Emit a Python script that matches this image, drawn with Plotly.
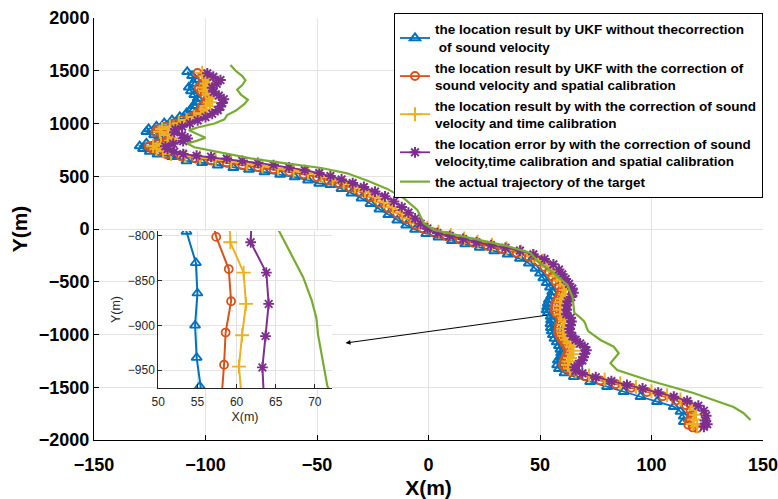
import plotly.graph_objects as go

FONT = "Liberation Sans, Arial, Helvetica, sans-serif"

# ---- actual trajectory of the target ----
true_x = [-88.8, -86.5, -83.5, -82.1, -83.5, -85.8, -84.0, -81.0, -82.5, -86.5, -90.3, -91.5, -96.0,
          -104.0, -107.5, -104.0, -100.0, -104.0, -108.2, -105.0, -97.0, -88.0, -79.8, -66.4, -57.4,
          -48.0, -36.5, -27.0, -18.5, -11.0, -5.0, -2.1, 2.4, 12.0, 23.3, 35.0, 45.7, 49.3, 55.6, 62.3,
          64.6, 65.0, 65.4, 67.2, 68.5, 69.6, 70.2, 70.4, 70.9, 71.6, 74.5, 77.1, 83.1, 85.3, 81.6,
          84.6, 98.2, 118.8, 136.8, 141.2, 144.4]
true_y = [1555, 1500, 1450, 1410, 1365, 1320, 1270, 1225, 1185, 1120, 1080, 1040, 1000,
          960, 935, 900, 865, 835, 810, 775, 740, 705, 670, 629, 607,
          578, 528, 455, 380, 290, 180, 54, -9, -55, -104, -160, -227, -313, -408, -531,
          -645, -740, -794, -825, -846, -872, -892, -910, -933, -968, -1010, -1052, -1116, -1178, -1273,
          -1337, -1431, -1555, -1687, -1744, -1810]

# ---- UKF without sound-velocity correction ----
ukf_x = [-108.2, -106.0, -104.5, -105.5, -107.5, -106.5, -105.0, -103.5, -104.0, -105.5, -106.5, -108.5,
         -111.5, -115.0, -118.5, -122.0, -125.5, -126.5, -123.0, -120.5, -122.0, -126.5, -129.5, -128.0,
         -125.0, -121.5, -115.0,
         -108.5, -101.5, -94.5, -87.5, -80.5, -73.5, -66.5, -60.0, -54.0, -49.0,
         -44.0, -39.0, -34.5, -30.0, -26.0, -22.0, -18.0, -14.0, -10.0, -6.0,
         -1.0, 4.5, 10.5, 16.5, 23.0, 29.5, 35.5, 41.0, 45.0, 48.0,
         50.0, 51.5, 53.0, 54.5, 55.5, 55.0, 54.0, 53.5, 53.2, 53.0, 53.6, 54.8, 55.0, 54.7, 54.9, 55.3,
         55.8, 56.5, 57.5, 58.5, 59.2, 59.5, 59.2, 58.0, 57.7, 58.5,
         61.0, 65.2, 72.5, 80.1, 87.5, 95.1, 102.5, 110.0, 113.0, 114.5, 114.5]
ukf_y = [1490, 1452, 1416, 1380, 1343, 1308, 1272, 1238, 1203, 1168, 1133, 1098,
         1063, 1033, 1003, 973, 948, 922, 892, 862, 836, 811, 786, 760,
         734, 708, 686,
         645, 628, 604, 580, 563, 540, 516, 492, 463, 432,
         420, 382, 340, 292, 240, 188, 134, 82, 35, -5,
         -45, -78, -112, -143, -175, -208, -240, -280, -325, -375,
         -420, -465, -510, -553, -597, -635, -672, -705, -740, -768, -795, -830, -864, -900, -936, -968,
         -1003, -1038, -1072, -1107, -1142, -1176, -1210, -1245, -1289, -1325,
         -1365, -1400, -1448, -1495, -1542, -1590, -1637, -1684, -1730, -1775, -1826]

# ---- UKF with sound-velocity correction and spatial calibration ----
sv_x = [-103.6, -101.5, -100.0, -101.5, -103.0, -102.0, -100.5, -99.0, -100.0, -101.5, -102.0, -104.0,
        -107.0, -110.5, -114.0, -118.0, -121.5, -122.5, -119.0, -116.0, -117.5, -122.0, -125.5, -124.0,
        -121.0, -117.5, -111.0,
        -104.5, -97.5, -90.5, -83.5, -76.5, -69.5, -62.5, -56.0, -50.0, -45.0,
        -40.0, -35.0, -30.5, -26.0, -22.0, -18.0, -14.0, -10.0, -6.0, -2.5,
        2.5, 8.0, 14.0, 20.0, 26.5, 33.0, 39.5, 45.0, 49.0, 52.0,
        54.0, 55.5, 57.0, 58.5, 59.5, 59.0, 58.0, 57.0, 56.8, 56.5, 57.4, 59.0, 59.3, 58.6, 58.4, 58.1,
        58.8, 59.8, 61.0, 62.0, 62.8, 62.3, 61.5, 60.8, 60.3, 61.5,
        64.0, 70.0, 77.0, 84.0, 91.0, 98.0, 105.0, 111.0, 115.5, 117.5, 118.0, 117.0, 116.5, 118.5, 120.5]
sv_y = [1479, 1445, 1410, 1375, 1340, 1305, 1270, 1235, 1200, 1165, 1130, 1095,
        1060, 1030, 1000, 970, 945, 920, 890, 860, 835, 810, 785, 760,
        735, 710, 690,
        668, 650, 628, 605, 588, 566, 543, 520, 492, 462,
        428, 392, 350, 300, 250, 198, 145, 92, 42, 2,
        -35, -68, -100, -130, -160, -192, -225, -265, -310, -360,
        -405, -450, -495, -540, -585, -625, -665, -700, -735, -768, -801, -837, -873, -908, -944, -979,
        -1012, -1046, -1080, -1115, -1150, -1185, -1218, -1252, -1287, -1320,
        -1355, -1395, -1435, -1470, -1505, -1545, -1585, -1625, -1670, -1720, -1765, -1810, -1855, -1880, -1888]

# ---- with sound-velocity correction and time calibration ----
svt_x = [-101.5, -100.0, -98.5, -99.5, -101.0, -100.0, -98.5, -97.0, -98.0, -99.5, -100.0, -102.0,
         -105.0, -108.5, -112.0, -116.0, -119.5, -120.5, -117.0, -114.0, -115.5, -120.0, -123.5, -122.0,
         -119.0, -115.5, -109.0,
         -102.5, -95.5, -88.5, -81.5, -74.5, -67.5, -60.5, -54.0, -48.0, -43.0,
         -38.0, -33.0, -28.5, -24.0, -20.0, -16.0, -12.0, -8.0, -4.0, -0.5,
         4.5, 10.0, 16.0, 22.0, 28.5, 35.0, 41.5, 47.0, 51.0, 54.0,
         56.0, 57.5, 59.0, 60.5, 61.5, 61.0, 60.0, 59.3, 59.0, 59.0, 59.2, 60.9, 61.2, 60.7, 60.3, 60.5,
         61.0, 62.0, 63.2, 64.3, 65.0, 64.5, 63.5, 62.8, 62.5, 63.5,
         66.0, 72.0, 79.0, 86.0, 93.0, 100.0, 107.0, 113.0, 117.5, 119.5, 120.0, 119.0, 118.5, 120.5]
svt_y = [1482, 1447, 1412, 1377, 1342, 1307, 1272, 1237, 1202, 1167, 1132, 1097,
         1062, 1032, 1002, 972, 947, 921, 891, 861, 836, 811, 786, 761,
         736, 712, 692,
         678, 660, 638, 616, 598, 576, 553, 530, 502, 472,
         438, 402, 360, 310, 260, 208, 155, 102, 52, 12,
         -25, -58, -90, -120, -150, -182, -215, -255, -300, -350,
         -398, -443, -488, -533, -578, -620, -660, -695, -730, -765, -807, -841, -876, -911, -946, -981,
         -1015, -1049, -1083, -1118, -1153, -1188, -1222, -1256, -1290, -1323,
         -1350, -1388, -1427, -1462, -1497, -1537, -1577, -1617, -1662, -1712, -1760, -1805, -1848, -1872]

# ---- with sound-velocity correction, time and spatial calibration ----
full_x = [-99.2, -96.5, -93.3, -95.0, -97.0, -96.3, -94.0, -91.8, -92.5, -93.3, -94.5, -97.0,
          -100.0, -103.5, -107.0, -110.5, -113.5, -114.0, -110.5, -108.0, -110.0, -114.5, -118.0, -117.0,
          -114.0, -110.0, -104.0,
          -97.5, -90.5, -83.5, -76.5, -69.5, -62.5, -55.5, -49.0, -44.0, -39.0,
          -34.0, -29.0, -24.0, -19.5, -15.5, -12.0, -9.0, -6.0, -3.5, -0.5,
          4.0, 9.5, 15.5, 21.5, 28.0, 34.5, 41.0, 47.0, 52.0, 56.0,
          58.5, 60.0, 61.5, 63.0, 64.5, 65.0, 64.0, 62.5, 62.0, 62.0, 61.8, 63.8, 64.1, 63.7, 63.3, 63.5,
          64.5, 66.0, 68.0, 70.0, 70.8, 70.0, 69.5, 69.0, 67.5, 65.5, 66.0,
          69.0, 75.0, 82.0, 89.0, 96.0, 103.0, 110.0, 116.0, 121.0, 123.5, 124.5, 124.0, 125.0, 123.5]
full_y = [1476, 1443, 1412, 1376, 1340, 1300, 1265, 1230, 1195, 1160, 1127, 1092,
          1060, 1030, 1000, 970, 944, 918, 888, 858, 833, 808, 784, 758,
          733, 710, 695,
          685, 668, 645, 626, 606, 584, 558, 530, 502, 470,
          435, 398, 355, 310, 260, 208, 155, 100, 50, 5,
          -38, -65, -95, -125, -152, -178, -205, -240, -285, -335,
          -385, -430, -475, -520, -565, -605, -645, -685, -722, -765, -807, -841, -876, -912, -947, -982,
          -1016, -1050, -1085, -1118, -1150, -1183, -1215, -1245, -1278, -1310, -1340,
          -1368, -1405, -1442, -1478, -1512, -1550, -1590, -1630, -1675, -1722, -1770, -1815, -1850, -1875]

labels = [
    "the location result by UKF without thecorrection<br> of sound velocity",
    "the location result by UKF with the correction of<br>sound velocity and spatial calibration",
    "the location result by with the correction of sound<br>velocity and time calibration",
    "the location error by with the correction of sound<br>velocity,time calibration and spatial calibration",
    "the actual trajectory of the target",
]
colors = ["#0072BD", "#D95319", "#EDB120", "#7E2F8E", "#77AC30"]
symbols = ["triangle-up-open", "circle-open", "cross-thin-open", "asterisk-open"]
msizes = [9, 8, 10, 9]
estimates = [(ukf_x, ukf_y), (sv_x, sv_y), (svt_x, svt_y), (full_x, full_y)]

fig = go.Figure()

# main axes
for i, (xs, ys) in enumerate(estimates):
    fig.add_trace(go.Scatter(
        x=xs, y=ys, mode="lines+markers", name=labels[i],
        line=dict(color=colors[i], width=1.8),
        marker=dict(symbol=symbols[i], size=msizes[i], color=colors[i],
                    line=dict(color=colors[i], width=2)),
    ))
fig.add_trace(go.Scatter(
    x=true_x, y=true_y, mode="lines", name=labels[4],
    line=dict(color=colors[4], width=2.2),
))

# zoomed inset
for i, (xs, ys) in enumerate(estimates):
    fig.add_trace(go.Scatter(
        x=xs, y=ys, mode="lines+markers", showlegend=False, xaxis="x2", yaxis="y2",
        line=dict(color=colors[i], width=2),
        marker=dict(symbol=symbols[i], size=msizes[i], color=colors[i],
                    line=dict(color=colors[i], width=1.8)),
    ))
fig.add_trace(go.Scatter(
    x=true_x, y=true_y, mode="lines", showlegend=False, xaxis="x2", yaxis="y2",
    line=dict(color=colors[4], width=2.2),
))

grid = "#e3e3e3"
main_tick = dict(family=FONT, size=18, color="black", weight="bold")
inset_tick = dict(family=FONT, size=12, color="#262626")

fig.update_layout(
    width=778, height=499,
    margin=dict(l=94, r=15, t=18, b=59),
    paper_bgcolor="white", plot_bgcolor="white",
    font=dict(family=FONT),
    xaxis=dict(
        domain=[0, 1], range=[-150, 150], tick0=-150, dtick=50,
        ticks="inside", ticklen=5, tickcolor="black",
        showline=True, linecolor="black", linewidth=1,
        showgrid=True, gridcolor=grid, zeroline=False, automargin=False,
        tickfont=main_tick, ticklabeloverflow="allow", ticklabelstandoff=8,
        title=dict(text="X(m)", font=dict(family=FONT, size=21, color="black", weight="bold"), standoff=8),
    ),
    yaxis=dict(
        domain=[0, 1], range=[-2000, 2000], tick0=-2000, dtick=500,
        ticks="inside", ticklen=5, tickcolor="black",
        showline=True, linecolor="black", linewidth=1,
        showgrid=True, gridcolor=grid, zeroline=False, automargin=False,
        tickfont=main_tick, ticklabeloverflow="allow",
        title=dict(text="Y(m)", font=dict(family=FONT, size=21, color="black", weight="bold"), standoff=5),
    ),
    xaxis2=dict(
        domain=[0.0961, 0.3553], anchor="y2", range=[50, 72.15], tick0=50, dtick=5,
        ticks="inside", ticklen=4, tickcolor="#262626",
        showline=True, linecolor="#262626", linewidth=1,
        showgrid=True, gridcolor=grid, zeroline=False, automargin=False,
        tickfont=inset_tick, ticklabelstandoff=3,
        title=dict(text="X(m)", font=dict(family=FONT, size=12.5, color="#262626"), standoff=3),
    ),
    yaxis2=dict(
        domain=[0.1232, 0.4953], anchor="x2", range=[-970, -794.4], tick0=-950, dtick=50,
        ticks="inside", ticklen=4, tickcolor="#262626",
        showline=True, linecolor="#262626", linewidth=1,
        showgrid=True, gridcolor=grid, zeroline=False, automargin=False,
        tickfont=inset_tick,
        title=dict(text="Y(m)", font=dict(family=FONT, size=12.5, color="#262626"), standoff=4),
    ),
    legend=dict(
        x=1, y=1.012, xanchor="right", yanchor="top",
        bgcolor="white", bordercolor="black", borderwidth=1,
        font=dict(family=FONT, size=13.5, color="black", weight="bold"),
        tracegroupgap=0, itemwidth=30,
    ),
    annotations=[dict(
        x=-37.2, y=-1081, ax=53.8, ay=-815, xref="x", yref="y", axref="x", ayref="y",
        showarrow=True, arrowhead=2, arrowsize=1, arrowwidth=1, arrowcolor="black", text="",
    )],
)

fig.write_html("out.html")
